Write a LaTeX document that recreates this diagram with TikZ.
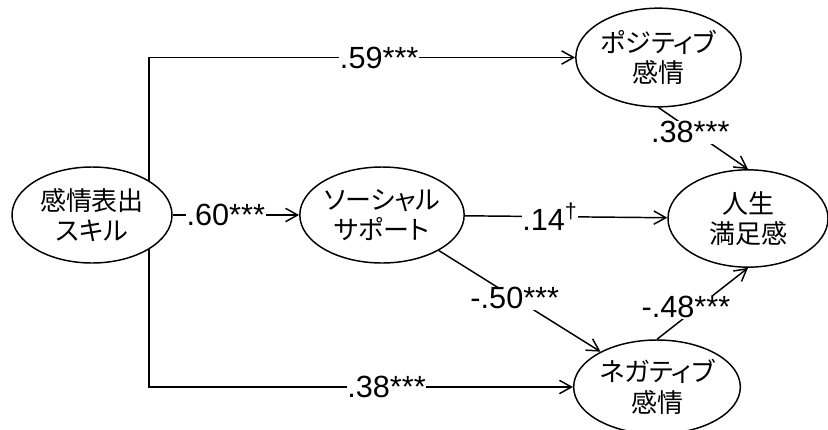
\documentclass[tikz,border=0pt]{standalone}
\usepackage{fontspec}
\setmainfont{Liberation Sans}
\newfontfamily\jpfont[RawFeature=+palt]{Noto Sans CJK JP}
\usepackage{tikz}
\usetikzlibrary{arrows.meta,positioning,calc,shapes.geometric}

\begin{document}
\begin{tikzpicture}[
    x=0.75pt,
    y=-0.75pt,
    >={Straight Barb[length=9pt,width=10pt]},
    line width=1.1pt,
    var/.style={ellipse, draw, inner sep=0pt, align=center, font=\jpfont\fontsize{19.5}{23}\selectfont},
    coef/.style={fill=white, inner sep=0.5pt, font=\fontsize{23}{26}\selectfont}
]
\useasboundingbox (0,0) rectangle (828,429);

% variables
\node[var, minimum width=120pt, minimum height=72pt] (skill) at (92,215) {感情表出\\スキル};
\node[var, minimum width=121pt, minimum height=72pt] (sup) at (382,215) {ソーシャル\\サポート};
\node[var, minimum width=124pt, minimum height=74pt] (pos) at (658.5,57.5) {ポジティブ\\感情};
\node[var, minimum width=120pt, minimum height=73pt] (life) at (748,218.5) {人生\\満足感};
\node[var, minimum width=125pt, minimum height=70.5pt] (neg) at (657,387) {ネガティブ\\感情};

% paths
\draw[->] (skill.31) |- node[coef, pos=0.77] {.59***} (pos.west);
\draw[->] (skill.-31) |- node[coef, pos=0.78] {.38***} (neg.west);
\draw[->] (skill) -- node[coef, pos=0.42] {.60***} (sup);
\draw[->] (sup) -- node[coef, pos=0.42] {.14\textsuperscript{†}} (life);
\draw[->] (sup) -- node[coef, pos=0.47] {-.50***} (neg);
\draw[->] (pos.south) -- node[coef, pos=0.4, xshift=-3pt] {.38***} (life.north);
\draw[->] (neg.north) -- node[coef, pos=0.45, xshift=-9pt] {-.48***} (life.south);
\end{tikzpicture}
\end{document}
